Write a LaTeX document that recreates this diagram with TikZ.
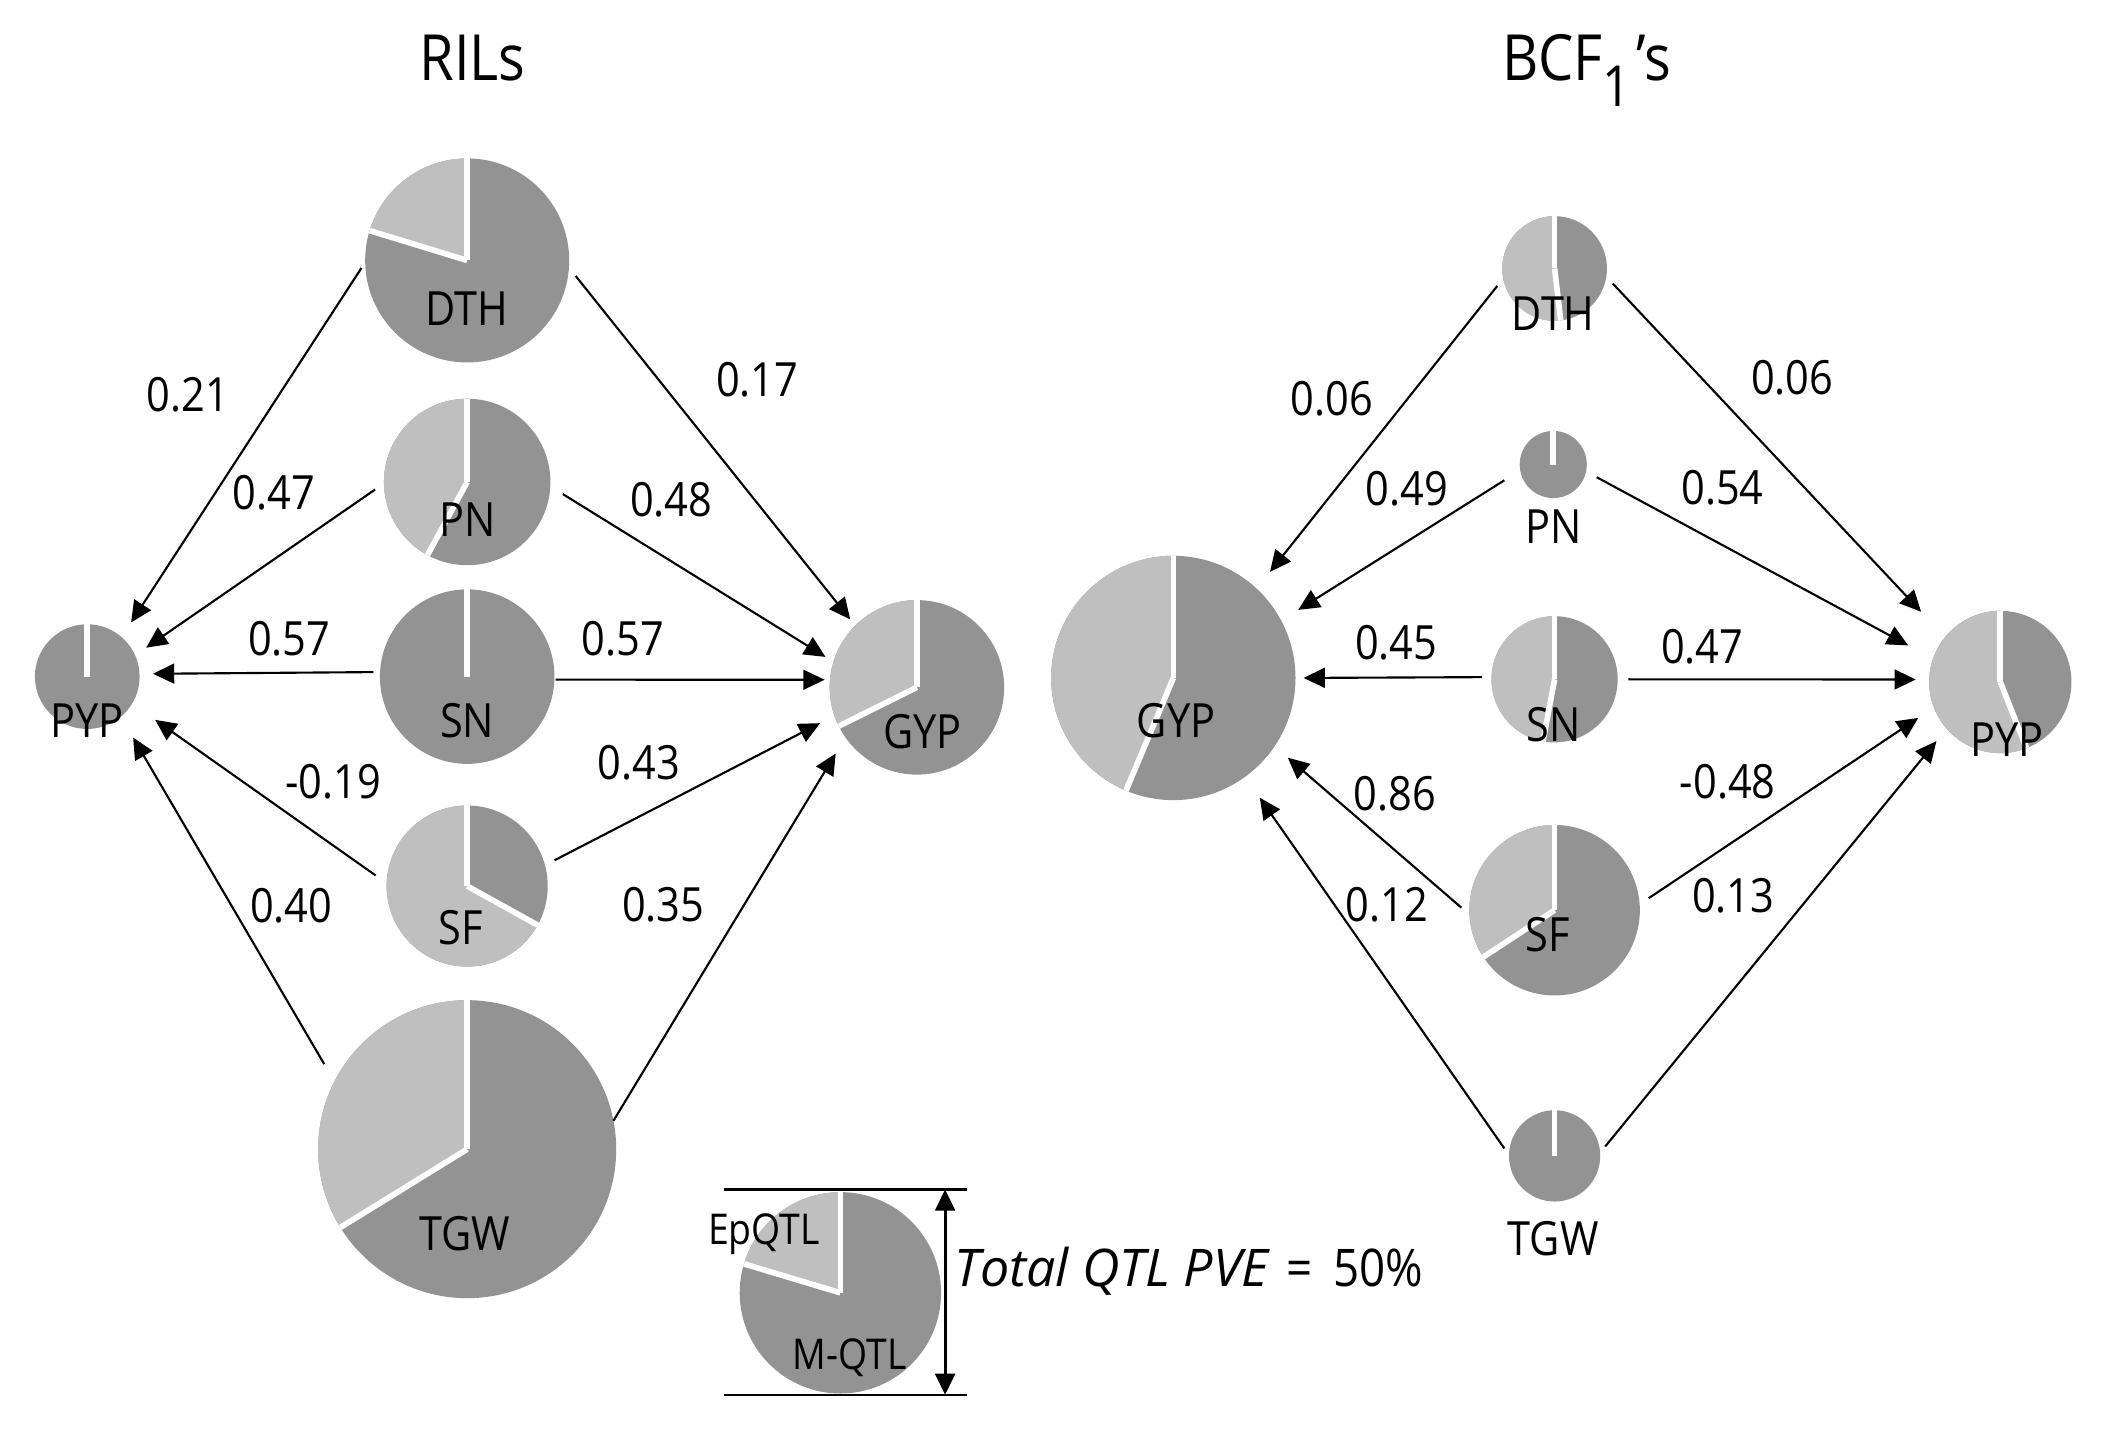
\documentclass[tikz,border=0pt]{standalone}
\usepackage{fontspec}
\setmainfont[FakeStretch=0.88]{Open Sans}
\newfontfamily\keyfont{Open Sans}
\usepackage{tikz}
\usetikzlibrary{arrows.meta}
\usepackage{xcolor}

\definecolor{mqtl}{RGB}{147,147,147}
\definecolor{epqtl}{RGB}{191,191,191}

\tikzset{
    pienode/.style={circle, inner sep=0pt, outer sep=0pt},
    slicesep/.style={white, line width=1.2pt},
    trait/.style={font=\fontsize{10}{12}\selectfont, inner sep=0pt, text height=0.25cm, text depth=0pt},
    keylbl/.style={font=\fontsize{9}{11}\selectfont, inner sep=0pt, text height=0.225cm, text depth=0pt},
    title/.style={font=\fontsize{13.5}{16}\selectfont, inner sep=0pt, anchor=base},
    arr/.style={-{Triangle[length=4.5pt,width=4.2pt]}, line width=0.45pt},
}

% pie: name, centre, radius, angle where the EpQTL slice ends (from 90 ccw)
\newcommand{\qtlpie}[4]{%
    \node[pienode, minimum size=#3*2cm] (#1) at #2 {};
    \fill[mqtl] (#1.center) circle (#3);
    \fill[epqtl] (#1.center) -- ++(90:#3) arc[start angle=90, end angle=#4, radius=#3] -- cycle;
    \draw[slicesep] (#1.center) -- ++(90:#3);
    \draw[slicesep] (#1.center) -- ++(#4:#3);
}

\begin{document}
\begin{tikzpicture}
    \useasboundingbox (0,0) rectangle (15.68,10.64);

    % ---- RILs ----
    \node[title] (ttlR) at (3.52,10.04) {RILs};
    \qtlpie{rDTH}{(3.48,8.70)}{0.76}{163}
    \qtlpie{rPN}{(3.48,7.05)}{0.62}{241.5}
    \qtlpie{rSN}{(3.48,5.60)}{0.65}{90}
    \qtlpie{rSF}{(3.48,4.04)}{0.60}{331}
    \qtlpie{rTGW}{(3.48,2.08)}{1.11}{211.7}
    \qtlpie{rPYP}{(0.65,5.60)}{0.39}{90}
    \qtlpie{rGYP}{(6.83,5.52)}{0.65}{206.4}

    \node[trait] (rDTHt) at (3.48,8.34) {DTH};
    \node[trait] (rPNt)  at (3.48,6.77) {PN};
    \node[trait] (rSNt)  at (3.48,5.275) {SN};
    \node[trait] (rSFt)  at (3.43,3.73) {SF};
    \node[trait] (rTGWt) at (3.46,1.45) {TGW};
    \node[trait] (rPYPt) at (0.65,5.275) {PYP};
    \node[trait] (rGYPt) at (6.87,5.19) {GYP};

    % ---- BCF1's ----
    \node[title] (ttlB) at (11.82,10.04) {BCF\raisebox{-0.19cm}{\fontsize{12}{14}\selectfont 1}\hspace{0.04cm}’s};
    \qtlpie{bDTH}{(11.58,8.64)}{0.39}{276.7}
    \qtlpie{bPN}{(11.57,7.18)}{0.25}{90}
    \qtlpie{bSN}{(11.58,5.58)}{0.47}{259.4}
    \qtlpie{bSF}{(11.58,3.86)}{0.635}{213.3}
    \qtlpie{bTGW}{(11.58,2.03)}{0.34}{90}
    \qtlpie{bGYP}{(8.74,5.59)}{0.91}{247.2}
    \qtlpie{bPYP}{(14.90,5.56)}{0.53}{291.6}

    \node[trait] (bDTHt) at (11.57,8.30) {DTH};
    \node[trait] (bPNt)  at (11.57,6.715) {PN};
    \node[trait] (bSNt)  at (11.57,5.24) {SN};
    \node[trait] (bSFt)  at (11.53,3.68) {SF};
    \node[trait] (bTGWt) at (11.57,1.41) {TGW};
    \node[trait] (bGYPt) at (8.76,5.27) {GYP};
    \node[trait] (bPYPt) at (14.95,5.13) {PYP};

    % Paths: from / anchor / gap / to / anchor / gap
    \foreach \a/\sa/\sg/\b/\eb/\eg in {
        rDTH/181/0.05/rPYP/49/0.13, rPN/181/0.08/rPYP/24/0.10,
        rSN/177/0.05/rPYP/3/0.10, rSF/178/0.10/rPYP/329/0.21,
        rTGW/153/0.15/rPYP/310/0.18, rDTH/356/0.08/rGYP/135/0.06,
        rPN/357/0.11/rGYP/163/0.07, rSN/358/0.01/rGYP/175/0.04,
        rSF/15/0.08/rGYP/199/0.12, rTGW/11/0.0/rGYP/215/0.14,
        bDTH/191/0.07/bGYP/47/0.16, bPN/190/0.14/bGYP/28/0.15,
        bSN/178/0.07/bGYP/0/0.06, bSF/183/0.08/bGYP/326/0.13,
        bTGW/179/0.06/bGYP/306/0.19, bDTH/351/0.07/bPYP/141/0.26,
        bPN/348/0.09/bPYP/161/0.21, bSN/0/0.08/bPYP/178/0.10,
        bSF/4/0.08/bPYP/201/0.14, bTGW/4/0.06/bPYP/221/0.12} {
        \draw[arr, shorten <=\sg*1cm, shorten >=\eg*1cm] (\a.\sa) -- (\b.\eb);
    }

    % Path coefficients
    \node[trait] (c1)  at (1.40,7.70) {0.21};
    \node[trait] (c2)  at (5.64,7.81) {0.17};
    \node[trait] (c3)  at (2.04,6.97) {0.47};
    \node[trait] (c4)  at (5.00,6.915) {0.48};
    \node[trait] (c5)  at (2.155,5.88) {0.57};
    \node[trait] (c6)  at (4.64,5.88) {0.57};
    \node[trait] (c7)  at (2.48,4.82) {-0.19};
    \node[trait] (c8)  at (4.76,4.96) {0.43};
    \node[trait] (c9)  at (2.17,3.89) {0.40};
    \node[trait] (c10) at (4.94,3.90) {0.35};
    \node[trait] (c11) at (9.92,7.67) {0.06};
    \node[trait] (c12) at (13.35,7.83) {0.06};
    \node[trait] (c13) at (10.48,7.00) {0.49};
    \node[trait] (c14) at (12.83,7.01) {0.54};
    \node[trait] (c15) at (10.40,5.85) {0.45};
    \node[trait] (c16) at (12.68,5.82) {0.47};
    \node[trait] (c17) at (10.39,4.73) {0.86};
    \node[trait] (c18) at (10.33,3.90) {0.12};
    \node[trait] (c19) at (12.87,4.82) {-0.48};
    \node[trait] (c20) at (12.91,3.97) {0.13};

    % ---- Key ----
    \qtlpie{key}{(6.26,1.01)}{0.75}{163.3}
    \node[keylbl] (keyEp) at (5.69,1.48) {EpQTL};
    \node[keylbl] (keyM)  at (6.33,0.55) {M-QTL};

    \coordinate (topL) at (5.39,1.78);
    \coordinate (topR) at (7.20,1.78);
    \coordinate (botL) at (5.39,0.25);
    \coordinate (botR) at (7.20,0.25);
    \coordinate (dimT) at (7.04,1.78);
    \coordinate (dimB) at (7.04,0.25);
    \draw[line width=0.45pt] (topL) -- (topR);
    \draw[line width=0.45pt] (botL) -- (botR);
    \draw[line width=0.6pt, {Triangle[length=4.5pt,width=4.2pt]}-{Triangle[length=4.5pt,width=4.2pt]}] (dimT) -- (dimB);
    \node[trait, font=\fontsize{11}{13}\selectfont, text height=0.27cm, anchor=west] (keyTxt) at (7.10,1.19)
        {{\keyfont\itshape Total QTL PVE}\hspace{0.13cm}=\hspace{0.16cm}50\%};
\end{tikzpicture}
\end{document}
